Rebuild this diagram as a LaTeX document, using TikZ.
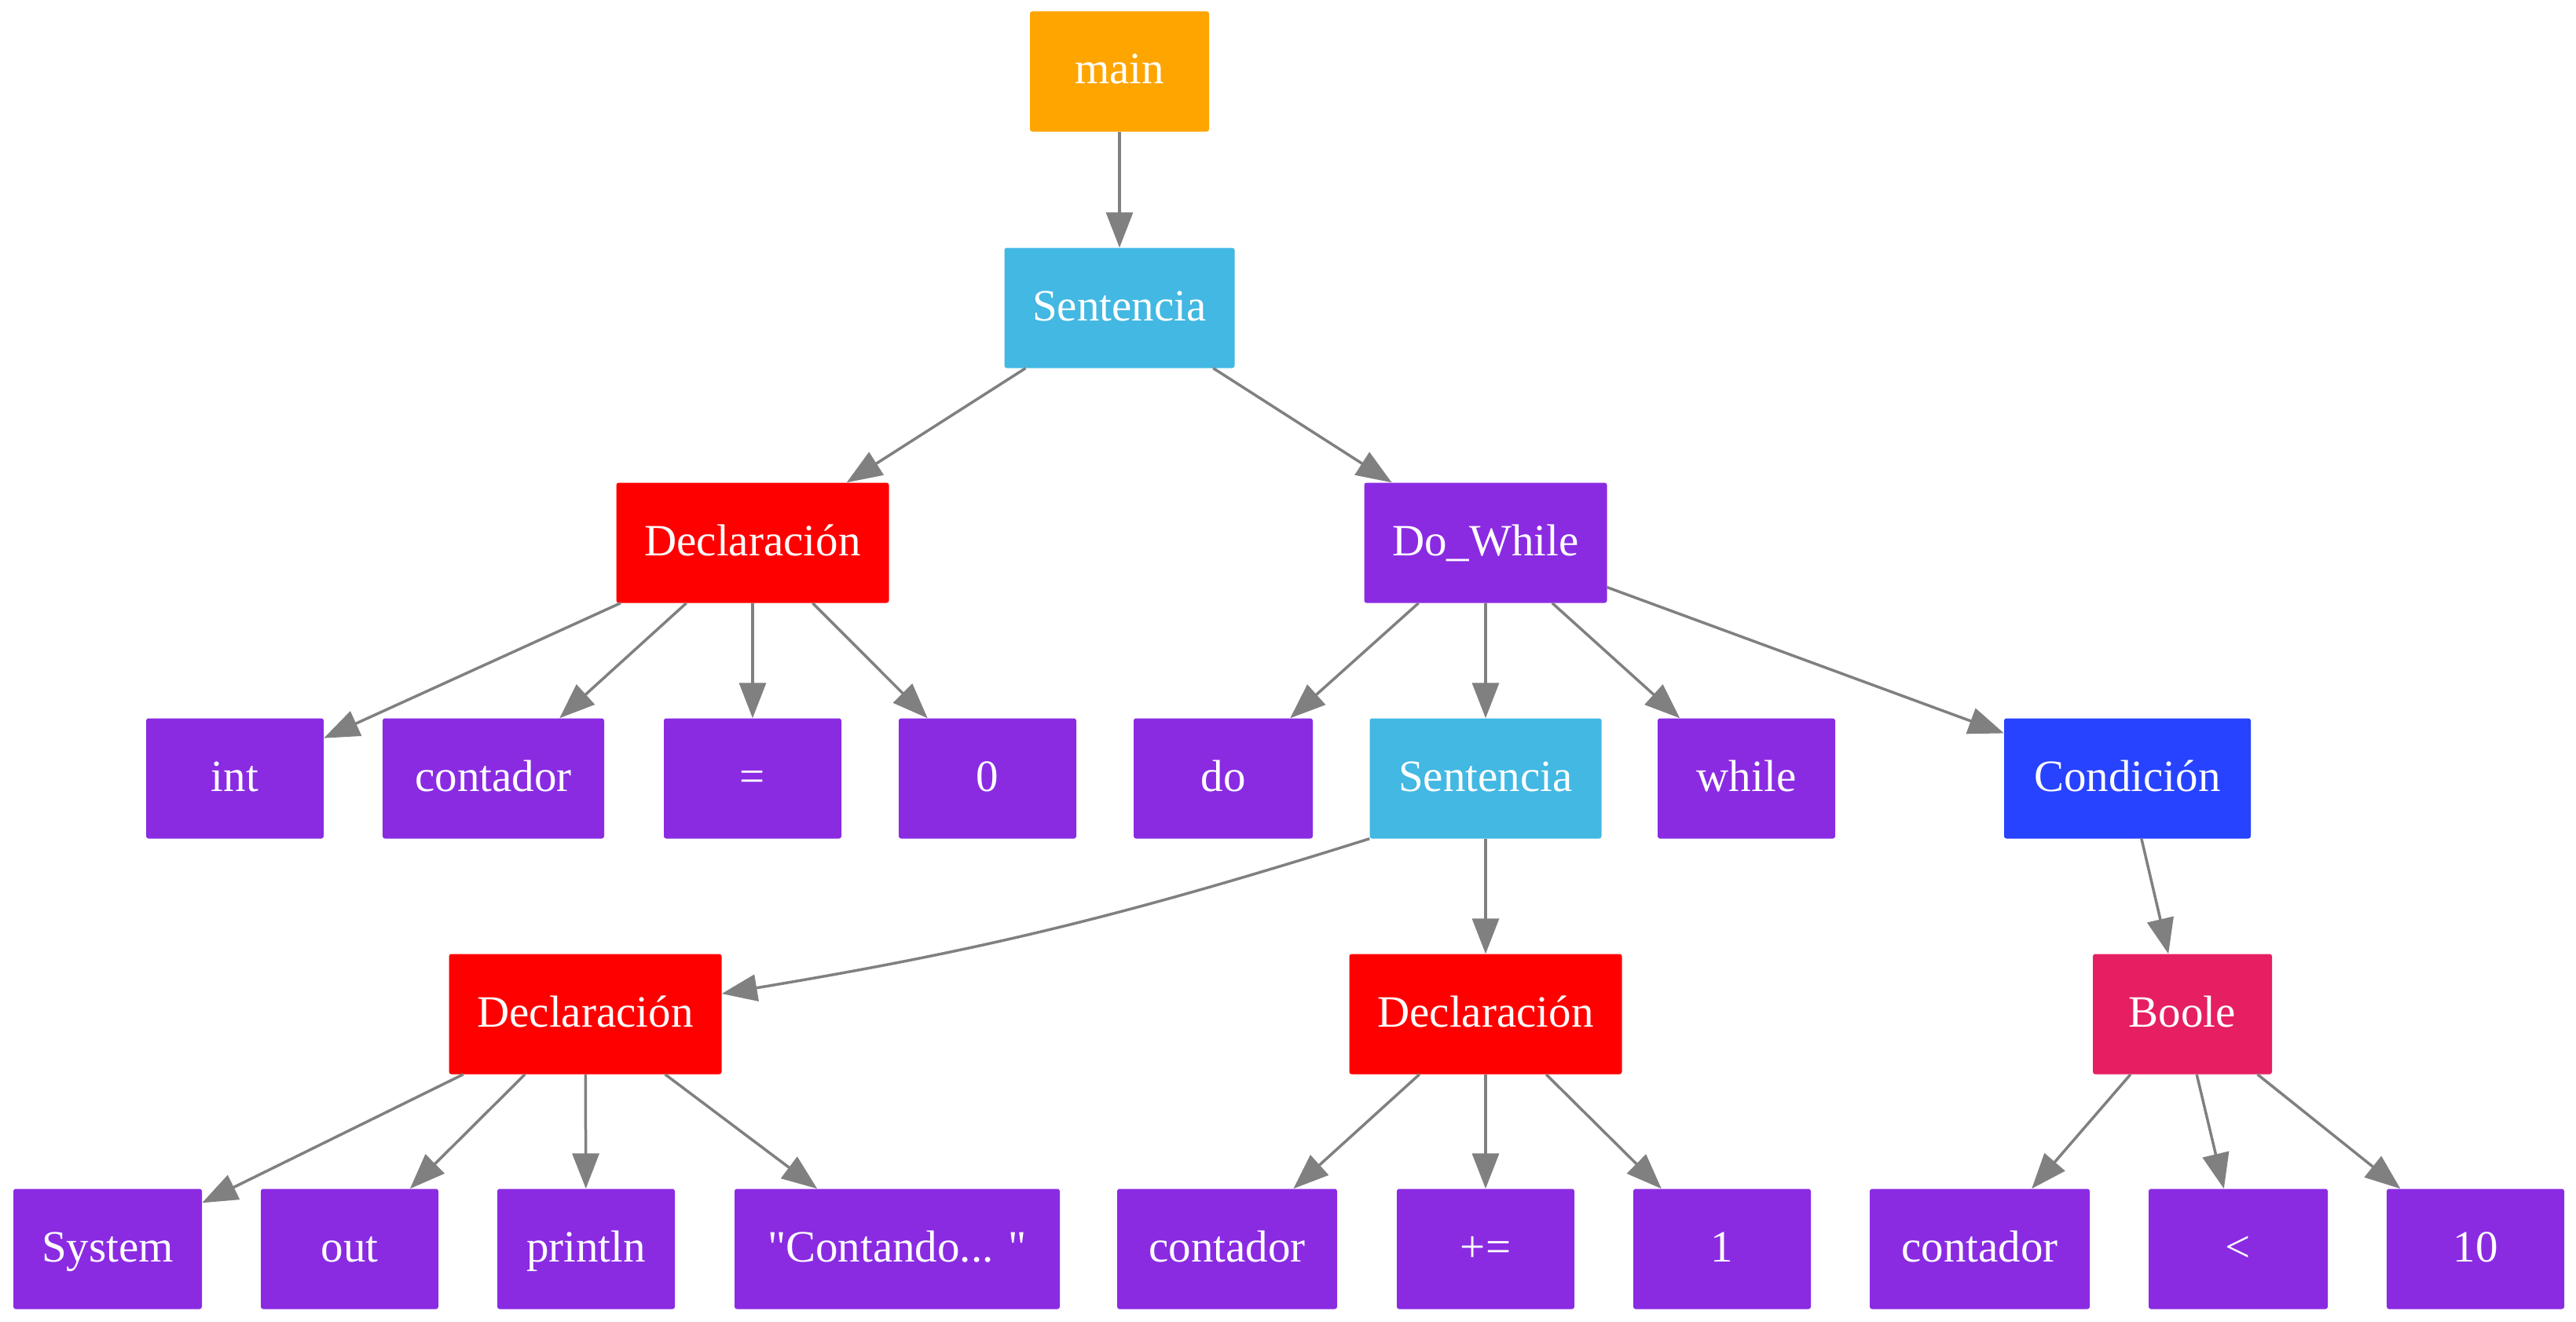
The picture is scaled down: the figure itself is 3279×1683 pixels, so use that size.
\documentclass[tikz,border=0pt]{standalone}
\usepackage{fontspec}
\setmainfont{Liberation Serif}
% same face without TeX ligature mapping, so " stays a straight quote
\newfontfamily\plainserif{Liberation Serif}
\usetikzlibrary{arrows.meta}
\definecolor{cMain}{HTML}{FFA500}
\definecolor{cSent}{HTML}{42B8E3}
\definecolor{cDecl}{HTML}{FF0000}
\definecolor{cLeaf}{HTML}{8A2BE2}
\definecolor{cCond}{HTML}{2743FF}
\definecolor{cBool}{HTML}{E61F62}
\definecolor{cEdge}{HTML}{808080}
\begin{document}
\begin{tikzpicture}[x=1pt,y=-1pt,
  box/.style 2 args={fill=#1, draw=none, text=white, rounded corners=3pt,
    minimum width=#2pt, minimum height=153pt, inner sep=0pt,
    text height=45pt, text depth=13pt,
    font=\fontsize{57}{68}\selectfont},
  edge/.style={draw=cEdge, line width=3.5pt, -{Triangle[length=45pt,width=34pt]}}]
\useasboundingbox (0,0) rectangle (3279,1683);
% level 0
\node[box={cMain}{228}] (main) at (1425,91) {main};
% level 1
\node[box={cSent}{293}] (sent1) at (1425,392) {Sentencia};
% level 2
\node[box={cDecl}{347}] (decl1) at (958,691) {Declaración};
\node[box={cLeaf}{309}] (dowhile) at (1891,691) {Do\_While};
% level 3
\node[box={cLeaf}{226}] (int) at (299,991) {int};
\node[box={cLeaf}{282}] (cont1) at (628,991) {contador};
\node[box={cLeaf}{226}] (eq) at (958,991) {=};
\node[box={cLeaf}{226}] (zero) at (1257,991) {0};
\node[box={cLeaf}{228}] (do) at (1557,991) {do};
\node[box={cSent}{295}] (sent2) at (1891,991) {Sentencia};
\node[box={cLeaf}{226}] (while) at (2223,991) {while};
\node[box={cCond}{314}] (cond) at (2708,991) {Condición};
% level 4
\node[box={cDecl}{347}] (decl2) at (745,1291) {Declaración};
\node[box={cDecl}{347}] (decl3) at (1891,1291) {Declaración};
\node[box={cBool}{228}] (boole) at (2778,1291) {Boole};
% level 5
\node[box={cLeaf}{240}] (system) at (137,1590) {System};
\node[box={cLeaf}{226}] (out) at (445,1590) {out};
\node[box={cLeaf}{226}] (println) at (746,1590) {println};
\node[box={cLeaf}{414}] (contando) at (1142,1590) {\plainserif "Contando... "};
\node[box={cLeaf}{280}] (cont2) at (1562,1590) {contador};
\node[box={cLeaf}{226}] (pluseq) at (1891,1590) {+=};
\node[box={cLeaf}{226}] (one) at (2192,1590) {1};
\node[box={cLeaf}{280}] (cont3) at (2520,1590) {contador};
\node[box={cLeaf}{228}] (lt) at (2849,1590) {<};
\node[box={cLeaf}{226}] (ten) at (3151,1590) {10};
% connectors
\draw[edge] (main) -- (sent1);
\draw[edge] (sent1) -- (decl1);
\draw[edge] (sent1) -- (dowhile);
\draw[edge] (decl1) -- (int);
\draw[edge] (decl1) -- (cont1);
\draw[edge] (decl1) -- (eq);
\draw[edge] (decl1) -- (zero);
\draw[edge] (dowhile) -- (do);
\draw[edge] (dowhile) -- (sent2);
\draw[edge] (dowhile) -- (while);
\draw[edge] (dowhile) -- (cond);
\draw[edge] (sent2.south west) to[bend left=4] (decl2);
\draw[edge] (sent2) -- (decl3);
\draw[edge] (cond) -- (boole);
\draw[edge] (decl2) -- (system);
\draw[edge] (decl2) -- (out);
\draw[edge] (decl2) -- (println);
\draw[edge] (decl2) -- (contando);
\draw[edge] (decl3) -- (cont2);
\draw[edge] (decl3) -- (pluseq);
\draw[edge] (decl3) -- (one);
\draw[edge] (boole) -- (cont3);
\draw[edge] (boole) -- (lt);
\draw[edge] (boole) -- (ten);
\end{tikzpicture}
\end{document}
